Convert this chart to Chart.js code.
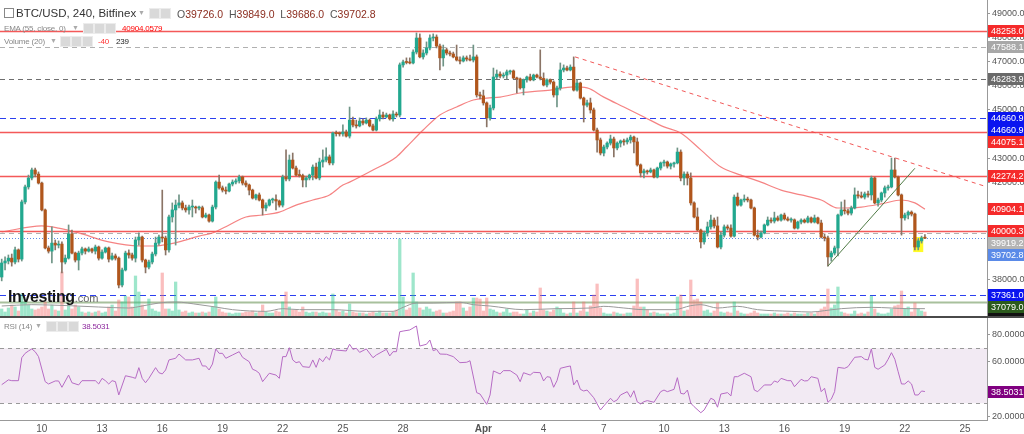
<!DOCTYPE html>
<html>
<head>
<meta charset="utf-8">
<title>BTC/USD, 240, Bitfinex</title>
<script src="https://cdn.jsdelivr.net/npm/chart.js@4.4.1/dist/chart.umd.min.js"></script>
<style>
  body { margin: 0; background: #fff; }
  #wrap { position: relative; width: 1024px; height: 434px; overflow: hidden; font-family: Arial, "Liberation Sans", sans-serif; }
  #priceChart { position: absolute; left: 0; top: 0; }
  #rsiChart { position: absolute; left: 0; top: 318px; }
  #sep { position: absolute; left: 0; top: 316px; width: 1024px; height: 2px; background: #4a4a4a; }
  .t { position: absolute; white-space: nowrap; line-height: 12px; }
  .sm { font-size: 8px; letter-spacing: -0.2px; color: #888; }
  .ico { position: absolute; width: 9px; height: 9px; background: #d9d9d9; border: 1px solid #ececec; }
  .caret { position: absolute; font-size: 7px; color: #aaa; }
  .r { color: #8b2c1e; }
</style>
</head>
<body>
<div id="wrap">
  <canvas id="priceChart" width="1024" height="316"></canvas>
  <div id="sep"></div>
  <canvas id="rsiChart" width="1024" height="116"></canvas>

  <!-- legend, main panel -->
  <span class="t" style="left:4px;top:8px;width:8px;height:8px;border:1px solid #888;"></span>
  <span class="t" style="left:16px;top:7px;font-size:11.5px;color:#333;">BTC/USD, 240, Bitfinex</span>
  <span class="caret" style="left:138px;top:9px;">&#9660;</span>
  <span class="ico" style="left:149px;top:8px;"></span><span class="ico" style="left:160px;top:8px;"></span>
  <span class="t" style="left:177px;top:8px;font-size:10.5px;color:#555;">O<span class="r">39726.0</span>&nbsp; H<span class="r">39849.0</span>&nbsp; L<span class="r">39686.0</span>&nbsp; C<span class="r">39702.8</span></span>

  <span class="t sm" style="left:4px;top:23px;">EMA (55, close, 0)</span>
  <span class="caret" style="left:72px;top:24px;">&#9660;</span>
  <span class="ico" style="left:83px;top:23px;"></span><span class="ico" style="left:94px;top:23px;"></span><span class="ico" style="left:105px;top:23px;"></span>
  <span class="t sm" style="left:122px;top:23px;color:#f00;">40904.0579</span>

  <span class="t sm" style="left:4px;top:36px;">Volume (20)</span>
  <span class="caret" style="left:50px;top:37px;">&#9660;</span>
  <span class="ico" style="left:60px;top:36px;"></span><span class="ico" style="left:71px;top:36px;"></span><span class="ico" style="left:82px;top:36px;"></span>
  <span class="t sm" style="left:98px;top:36px;color:#f33;">-40</span>
  <span class="t sm" style="left:116px;top:36px;color:#222;">239</span>

  <!-- watermark -->
  <span class="t" style="left:8px;top:289px;font-size:16px;font-weight:bold;color:#151515;letter-spacing:-0.4px;line-height:16px;">Investing<span style="font-size:11px;font-weight:normal;color:#666;letter-spacing:0;">.com</span></span>

  <!-- legend, RSI panel -->
  <span class="t sm" style="left:4px;top:321px;">RSI (14)</span>
  <span class="caret" style="left:35px;top:322px;">&#9660;</span>
  <span class="ico" style="left:46px;top:321px;"></span><span class="ico" style="left:57px;top:321px;"></span><span class="ico" style="left:68px;top:321px;"></span>
  <span class="t sm" style="left:82px;top:321px;color:#8e2a9e;">38.5031</span>
</div>

<script>
// 4h candles, 8 Mar - 23 Apr (index 0 = 8 Mar 00:00)
const opens = [
  38100,38680,38760,38880,38720,39220,38840,41200,41820,42190,
  42520,42350,41980,40870,39300,39170,39500,39420,39460,38720,
  38880,39880,39090,38800,39090,39260,39170,39260,39170,39340,
  38880,39130,39300,38840,38970,38880,37770,38390,39090,39010,
  38880,39630,39750,38800,38510,38720,39050,39500,39750,39710,
  39220,40580,40870,41070,41160,40950,40870,40990,40990,40950,
  40960,40580,40660,40410,40990,42020,41780,41690,41650,41940,
  42020,42070,42230,41980,41900,41690,41360,41490,41280,40950,
  41070,41280,41300,41240,41070,42230,42150,42930,42600,42310,
  42290,42110,42190,42310,42640,42190,42850,42930,43060,42810,
  44050,44020,44010,44090,43920,44580,44380,44340,44540,44460,
  44580,44340,44170,44630,44790,44710,44790,44630,44830,44790,
  46860,46980,46960,46940,47390,47970,47190,47350,47560,47970,
  48010,47640,47150,47480,47350,47310,47190,47060,47020,47150,
  47100,47060,47190,45620,45580,45290,44670,45080,46360,46480,
  46400,46440,46570,46610,46320,46280,45910,46240,46360,46240,
  46440,46360,46300,46030,46240,46150,45620,45910,46650,46730,
  46650,46770,45820,46110,45490,45200,45290,45000,44170,43760,
  43220,43470,43630,43800,43430,43630,43720,43680,43760,43880,
  43680,42730,42400,42480,42440,42520,42230,42600,42810,42850,
  42680,42770,42810,43260,42190,42350,42190,41160,40580,40040,
  39550,39920,40170,40450,40210,39340,39830,40170,40120,39790,
  41400,41070,41280,41320,41280,40950,39830,39750,39920,40250,
  40450,40410,40540,40450,40660,40500,40450,40460,40120,40370,
  40450,40370,40540,40370,40540,40330,39750,39710,38930,39090,
  39300,40660,40870,40830,40740,40950,41490,41450,41400,41530,
  41490,42190,41160,41280,41570,41780,41820,42520,42230,41490,
  40540,40660,40780,40700,39340,39590,39726
];
const highs = [
  38840,38930,39010,39050,39340,39260,41280,41900,42310,42600,
  42600,42440,42020,40910,39380,40170,39630,39590,39550,39010,
  40250,40040,39130,39170,39340,39300,39340,39300,39420,39380,
  39220,39340,39340,39090,39050,38930,38470,39170,39220,39090,
  39750,39920,39790,38840,38800,39130,39750,39830,41690,39790,
  40660,41160,41280,41490,41240,41070,41070,41280,41030,41030,
  41030,40740,40700,41070,42070,42310,41860,41820,41980,42110,
  42150,42310,42270,42070,41940,41730,41530,41570,41320,41160,
  41320,41360,41490,41280,42310,43350,43140,43220,42680,42520,
  42350,42270,42350,42730,42810,43010,43350,43430,43140,44090,
  44130,44090,44380,44170,45120,44710,44580,44670,44630,44670,
  44630,44420,44710,45000,44910,44870,44830,44960,44910,46940,
  47060,47150,47150,47480,48180,48140,47480,47810,48100,48140,
  48100,47720,47680,47560,47430,47390,47680,47190,47230,47230,
  47270,47680,47270,45740,45820,45330,45200,46730,46650,46570,
  46530,46650,46650,46650,46360,46320,46280,46400,46480,46480,
  46480,47480,46530,46280,46280,46200,45990,46940,46860,46810,
  46860,47190,46240,46150,45530,45410,45490,45080,44250,43840,
  43550,43680,43960,43880,43680,43760,43800,43840,43960,43920,
  43840,42770,42560,42520,42600,42560,42640,42850,42930,42890,
  42810,42850,43430,43350,42440,42440,42400,41200,40950,40080,
  40000,40370,40660,40540,40580,39960,40250,40250,40250,41490,
  41570,41320,41490,41400,41320,40990,40040,40000,40290,40580,
  40540,40780,40620,40700,40740,40580,40540,40500,40410,40500,
  40500,40620,40580,40660,40580,40450,39880,39790,39170,39380,
  40700,41200,41280,40910,41030,41780,41650,41610,41610,41650,
  42270,42230,41360,41610,41860,41900,43010,43010,42270,41530,
  40740,40830,40830,40740,39670,39790,39849
];
const lows = [
  37940,38390,38640,38550,38640,38720,38760,41120,41730,42110,
  42230,41940,40830,39260,39090,38680,39220,39300,38270,38640,
  38840,39050,38720,38390,39010,39050,39130,39090,39050,38800,
  38840,39090,38720,38800,38800,37650,37690,38350,38880,38800,
  38720,39420,38720,38270,38430,38640,38970,39420,39550,39010,
  39130,40370,39420,40950,40870,40780,40700,40580,40740,40870,
  40540,40540,40370,40370,40910,41730,41610,41530,41610,41860,
  41940,41980,41900,41820,41490,41320,41280,41240,40660,40830,
  41030,41160,40870,40990,40990,42070,42070,42560,42270,42230,
  41820,41820,42110,42110,42150,42110,42640,42850,42730,42730,
  43920,43920,43920,43880,43840,44300,44250,44300,44380,44420,
  44300,44130,44130,44540,44630,44670,44580,44540,44710,44710,
  46770,46900,46900,46900,47310,47150,47100,47270,47480,47850,
  47560,46650,46810,47270,47230,47150,47020,46900,46980,47020,
  47020,46980,45530,45450,45200,44300,44580,45000,46280,46320,
  46320,46280,46480,46280,45700,45860,45620,46150,46200,46200,
  46320,46240,45990,45950,46070,45530,45120,45820,46570,46610,
  46610,45780,45780,45450,44500,45120,44870,44130,43260,43140,
  43100,43390,43550,43060,43350,43470,43550,43590,43630,43220,
  42680,42230,42190,42350,42400,42190,42190,42520,42680,42600,
  42560,42640,42770,42070,41900,41900,41070,40540,40000,39300,
  39460,39790,40080,40120,39300,39260,39750,40040,39750,39750,
  41030,41030,41200,41200,40910,39790,39630,39710,39880,40210,
  40330,40330,40410,40410,40450,40410,40370,40080,40080,40290,
  40330,40330,40330,40330,40290,39710,39590,38550,38760,39010,
  38970,40620,40700,40660,40660,40910,41360,41360,41320,41400,
  41280,41120,41030,41200,41400,41690,41780,42190,41450,39830,
  40450,40500,40620,39220,39220,39500,39686
];
const closes = [
  38680,38760,38880,38720,39220,38840,41200,41820,42190,42520,
  42350,41980,40870,39300,39170,39500,39420,39460,38720,38880,
  39880,39090,38800,39090,39260,39170,39260,39170,39340,38880,
  39130,39300,38840,38970,38880,37770,38390,39090,39010,38880,
  39630,39750,38800,38510,38720,39050,39500,39750,39710,39220,
  40580,40870,41070,41160,40950,40870,40990,41010,40950,40960,
  40580,40660,40410,40990,42020,41780,41690,41650,41940,42020,
  42070,42230,41980,41900,41690,41360,41490,41280,40950,41070,
  41280,41300,41240,41070,42230,42150,42930,42600,42310,42290,
  42110,42190,42310,42640,42190,42850,42930,43060,42810,44050,
  44020,44010,44090,43920,44580,44380,44340,44540,44460,44580,
  44340,44170,44630,44790,44710,44790,44630,44830,44790,46860,
  46980,46960,46940,47390,47970,47190,47350,47560,47970,48010,
  47640,47150,47480,47350,47310,47190,47060,47020,47150,47100,
  47060,47190,45620,45580,45290,44670,45080,46360,46480,46400,
  46440,46570,46610,46320,46280,45910,46240,46360,46240,46440,
  46360,46300,46030,46240,46150,45620,45910,46650,46730,46650,
  46770,45820,46110,45490,45200,45290,45000,44170,43760,43220,
  43470,43630,43800,43430,43630,43720,43680,43760,43880,43680,
  42730,42400,42480,42440,42520,42230,42600,42810,42850,42680,
  42770,42810,43260,42190,42350,42190,41160,40580,40040,39550,
  39920,40170,40450,40210,39340,39830,40170,40120,39790,41400,
  41070,41280,41320,41280,40950,39830,39750,39920,40250,40450,
  40410,40540,40450,40660,40500,40450,40460,40120,40370,40450,
  40370,40540,40370,40540,40330,39750,39710,38930,39090,39300,
  40660,40870,40830,40740,40950,41490,41450,41400,41530,41490,
  42190,41160,41280,41570,41780,41820,42520,42230,41490,40540,
  40660,40780,40700,39340,39590,39710,39702.8
];
const volumes = [
  420,240,480,660,540,300,1320,840,660,420,
  360,420,540,840,420,660,360,300,2640,360,
  660,420,660,540,240,180,240,180,240,300,
  180,240,540,660,300,960,840,1200,1140,540,
  2400,1440,660,360,1020,420,300,240,2580,420,
  420,300,2040,360,240,300,180,240,180,180,
  240,180,240,540,1140,420,240,180,180,120,
  180,180,180,240,240,300,180,240,660,240,
  180,180,300,240,840,1440,540,360,360,240,
  540,240,180,240,240,180,240,180,180,1320,
  360,240,300,180,720,240,180,180,180,120,
  180,240,180,300,180,180,180,240,360,4620,
  1140,360,480,2580,840,480,360,540,420,240,
  300,360,180,180,240,300,840,840,480,300,
  540,1080,1080,1020,300,1080,420,360,240,180,
  240,420,180,240,240,120,120,360,180,300,
  240,1680,360,300,240,360,540,420,180,120,
  180,840,180,300,840,240,600,1260,1920,480,
  180,120,120,240,180,120,120,180,180,600,
  2220,540,540,360,180,240,180,120,120,180,
  120,180,1140,1260,300,360,2160,960,1020,840,
  300,360,180,300,780,240,180,240,180,840,
  300,180,120,120,180,300,180,120,120,120,
  120,180,120,120,120,180,120,180,120,120,
  120,180,180,120,240,420,540,1620,480,660,
  1740,240,180,120,120,300,120,180,120,240,
  1200,420,180,120,120,180,420,600,660,1500,
  420,540,240,780,420,300,239
];

// indicator lines: [candle index, value]
const emaPoints = [
  [0,39960],[12,40210],[17,40120],[23,39920],[32,39550],[41,39380],[46,39380],[50,39460],
  [53,39550],[59,39790],[63,39920],[68,40250],[73,40580],[78,40660],[83,40780],[88,41070],
  [93,41280],[98,41490],[102,41900],[104,42020],[111,42520],[118,43060],[121,43470],[126,44170],
  [131,44790],[136,45120],[141,45410],[145,45490],[149,45530],[155,45700],[164,45820],[171,45950],
  [175,45910],[180,45530],[186,45120],[192,44710],[198,44300],[203,44050],[209,43350],[215,42640],
  [221,42310],[227,42020],[233,41690],[239,41490],[245,41280],[250,40950],[257,40990],[263,41120],
  [269,41280],[273,41160],[276,40904.1]
];
const volMaPoints = [
  [0,600],[9,680],[20,620],[29,540],[38,480],[42,600],[47,780],[52,840],[59,680],[64,540],
  [69,380],[79,280],[84,440],[89,380],[99,380],[109,280],[117,280],[120,520],[124,780],[129,780],
  [137,820],[141,680],[146,600],[156,380],[166,440],[176,480],[180,580],[186,480],[192,380],[201,380],
  [206,620],[209,680],[214,480],[220,580],[226,380],[236,280],[242,240],[246,320],[251,440],[260,520],
  [266,480],[271,440],[276,440]
];
const rsiPoints = [
  [0,43.5],[1,45.2],[2,47],[3,46.4],[5,46.4],[6,63.1],[7,66.3],[8,68],[9,69.5],[10,67.5],[11,63.9],
  [13,45.7],[14,44],[16,46.2],[17,46.2],[18,41.6],[20,50.5],[21,44.9],[23,43.3],[24,46.4],[28,46.4],
  [29,44],[30,48.1],[31,46.4],[32,44],[33,46.4],[34,45.7],[35,36],[37,50],[39,48.9],[40,48.1],
  [41,55.9],[42,48.1],[43,44.9],[44,48.1],[46,55.9],[47,52.2],[48,51.3],[49,54.2],[50,61.5],[52,62.7],
  [53,65.8],[55,61.5],[57,61.5],[59,62.7],[60,57.1],[61,57.1],[62,54.2],[63,58.5],[64,69.5],[65,66.3],
  [66,66.3],[67,62.7],[69,65.1],[71,67.5],[72,63.4],[74,60.2],[75,54.7],[76,53.7],[77,51.8],[78,45.7],
  [80,51.8],[82,50.5],[83,48.1],[84,63.9],[85,63.9],[86,70.4],[87,61.5],[88,59.5],[89,60.2],[90,56.6],
  [92,56.1],[93,61.5],[94,56.1],[95,62.7],[96,60.2],[97,63.9],[98,61.5],[99,69.5],[100,68.7],[103,68],
  [104,72.9],[105,69.2],[106,70],[107,67],[109,69.5],[111,63.1],[112,65.1],[115,69.2],[116,64.4],[117,67.5],
  [118,67.5],[119,82],[120,82.5],[122,83.3],[124,86.2],[125,71.6],[127,72.9],[128,76],[129,68.2],[130,69.2],
  [131,65.8],[133,65.6],[135,63.9],[137,59.5],[139,59.8],[140,60.9],[142,37.7],[143,36.7],[144,33],[145,29.2],
  [146,36],[147,53.5],[149,51.3],[150,53.7],[152,53.7],[154,50.5],[155,45.7],[156,52.2],[158,50.5],[159,52.5],
  [161,52.2],[162,46.2],[163,49.3],[164,48.9],[165,41.6],[166,46.4],[167,55.4],[169,56.6],[170,57.1],[171,43.3],
  [172,46.9],[173,40.1],[174,38.9],[175,39.6],[177,34],[178,29.5],[179,25.1],[180,28],[182,33.6],[183,31.1],
  [184,32.4],[185,36],[187,38.4],[188,34.3],[189,39.1],[190,31],[191,29.5],[192,31.1],[193,31.9],[195,30.7],
  [197,38.4],[198,39.6],[199,38.4],[201,40.1],[202,48.6],[203,37.2],[204,36.7],[205,39.6],[206,30],[207,27.5],
  [209,23.1],[210,25.1],[212,33.6],[213,32.4],[214,27.1],[215,36.7],[217,37.7],[218,35.3],[219,49.3],[220,49.3],
  [222,51.8],[224,49.3],[225,39.6],[226,38.4],[228,43.3],[230,43.3],[231,46.2],[232,45.2],[233,48.1],[235,46.4],
  [236,46.4],[237,42],[239,47.4],[240,46.2],[241,46.4],[242,49.3],[244,48.1],[245,38.4],[246,40.9],[247,30.7],
  [248,32.9],[249,38.4],[250,56.1],[252,55.4],[253,56.6],[255,63.4],[257,63.9],[258,62],[259,61.5],[260,69.5],
  [261,56.1],[262,54.7],[264,57.8],[265,62],[266,66.8],[267,62],[268,52.9],[269,44],[270,44],[271,46.2],
  [272,44],[273,36],[274,36],[275,38.9],[276,38.5031]
];

// drawn trend lines: [candle index, price]
const downTrend = [[171.4,47190],[294.6,41820]];
const upTrend = [[247,38550],[273,42590]];
const highlightBox = { from: 272.5, to: 275.5, low: 39130, high: 39750 };

// horizontal levels and right-axis tags
const levelPrices = [48258.0, 47588.1, 46283.9, 44660.9, 44075.1, 42274.2, 40000.3, 39919.2, 39702.8, 37361.0, 37079.0];
const levelStyles = ['red','gray','dark','blue','red','red','red','gray','last','blue','green'];
const tagValues = [48258.0, 47588.1, 46283.9, 44660.9, 44660.9, 44075.1, 42274.2, 40904.1, 40000.3, 39919.2, 39702.8, 37361.0, 37079.0];
const tagColors = ['#f52a2a','#a8a8a8','#6a6a6a','#0a14f0','#0a14f0','#f52a2a','#f52a2a','#f52a2a','#f52a2a','#b4b4b4','#5a8ae8','#0a14f0','#2b5a1c'];

const priceTicks = [38000,39000,40000,41000,42000,43000,44000,45000,46000,47000,48000,49000];
const rsiTicks = [20,40,60,80];
const rsiBand = [30,70];
const dayTickIdx = [12,30,48,66,84,102,120,144,162,180,198,216,234,252,270,288];
const dayLabels = ['10','13','16','19','22','25','28','Apr','4','7','10','13','16','19','22','25'];

Chart.defaults.font.family = 'Arial, "Liberation Sans", sans-serif';

const isUp = closes.map((c, i) => c >= opens[i]);
const X_MIN = -0.51, X_MAX = 294.56;

const lineStyle = {
  red:   { color: 'rgba(242,60,60,0.85)', width: 1.5, dash: [] },
  gray:  { color: '#b0b0b0', width: 1, dash: [5, 4] },
  dark:  { color: '#6f6f6f', width: 1, dash: [5, 4] },
  blue:  { color: '#2b3ff0', width: 1, dash: [6, 4] },
  last:  { color: '#5a8ae8', width: 1, dash: [1, 2] },
  green: { color: 'rgba(110,150,90,0.6)', width: 2, dash: [] }
};

function drawTags(chart, items) {
  const ctx = chart.ctx, area = chart.chartArea;
  const pts = items.map(it => ({ ...it, y: chart.scales[it.axis].getPixelForValue(it.v) }))
    .sort((a, b) => a.y - b.y);
  let prev = -1e9;
  pts.forEach(p => { if (p.y < prev + 12) p.y = prev + 12; prev = p.y; });
  ctx.save();
  ctx.font = '9px Arial, "Liberation Sans", sans-serif';
  ctx.textBaseline = 'middle';
  pts.forEach(p => {
    ctx.fillStyle = p.bg;
    ctx.fillRect(area.right + 1, Math.round(p.y) - 6, 37, 12);
    ctx.fillStyle = '#fff';
    ctx.fillText(p.text, area.right + 4, Math.round(p.y) + 0.5);
  });
  ctx.restore();
}

const pricePanelPlugin = {
  id: 'pricePanel',
  beforeDatasetsDraw(chart) {
    const ctx = chart.ctx, area = chart.chartArea;
    const x = chart.scales.x, y = chart.scales.y;
    ctx.save();
    // yellow highlight
    ctx.fillStyle = 'rgba(255,250,0,0.85)';
    const hx1 = x.getPixelForValue(highlightBox.from), hx2 = x.getPixelForValue(highlightBox.to);
    const hy1 = y.getPixelForValue(highlightBox.high), hy2 = y.getPixelForValue(highlightBox.low);
    ctx.fillRect(hx1, hy1, hx2 - hx1, hy2 - hy1);
    // horizontal levels
    levelPrices.forEach((p, k) => {
      const st = lineStyle[levelStyles[k]];
      const py = Math.round(y.getPixelForValue(p)) + 0.5;
      ctx.strokeStyle = st.color;
      ctx.lineWidth = st.width;
      ctx.setLineDash(st.dash);
      ctx.beginPath();
      ctx.moveTo(area.left, py);
      ctx.lineTo(area.right, py);
      ctx.stroke();
    });
    ctx.restore();
  },
  afterDraw(chart) {
    const items = tagValues.map((v, k) => ({ v, axis: 'y', bg: tagColors[k], text: v.toFixed(1) }));
    items.push({ v: volumes[volumes.length - 1], axis: 'vol', bg: '#111', text: String(volumes[volumes.length - 1]) });
    drawTags(chart, items);
  }
};

const rsiPanelPlugin = {
  id: 'rsiPanel',
  beforeDatasetsDraw(chart) {
    const ctx = chart.ctx, area = chart.chartArea, y = chart.scales.y;
    const yTop = y.getPixelForValue(rsiBand[1]), yBot = y.getPixelForValue(rsiBand[0]);
    ctx.save();
    ctx.fillStyle = 'rgba(150,80,160,0.12)';
    ctx.fillRect(area.left, yTop, area.right - area.left, yBot - yTop);
    ctx.strokeStyle = '#999';
    ctx.lineWidth = 1;
    ctx.setLineDash([4, 4]);
    [yTop, yBot].forEach(py => {
      ctx.beginPath();
      ctx.moveTo(area.left, Math.round(py) + 0.5);
      ctx.lineTo(area.right, Math.round(py) + 0.5);
      ctx.stroke();
    });
    ctx.restore();
  },
  afterDraw(chart) {
    const last = rsiPoints[rsiPoints.length - 1][1];
    drawTags(chart, [{ v: last, axis: 'y', bg: '#800080', text: last.toFixed(4) }]);
  }
};

function fixedRightAxis(s) {
  s.width = 37;
  s.paddingTop = 0;
  s.paddingBottom = 0;
}

// main price panel
new Chart(document.getElementById('priceChart'), {
  type: 'bar',
  data: {
    datasets: [
      {
        label: 'Volume', yAxisID: 'vol', grouped: false, order: 10,
        data: volumes.map((v, i) => ({ x: i, y: v })),
        backgroundColor: isUp.map(u => u ? 'rgba(40,200,140,0.45)' : 'rgba(245,110,110,0.45)'),
        barThickness: 2.6
      },
      {
        type: 'line', label: 'Volume MA', yAxisID: 'vol', order: 9,
        data: volMaPoints.map(p => ({ x: p[0], y: p[1] })),
        borderColor: '#9a9a9a', borderWidth: 1, pointRadius: 0, cubicInterpolationMode: 'monotone'
      },
      {
        type: 'line', label: 'EMA 55', yAxisID: 'y', order: 6,
        data: emaPoints.map(p => ({ x: p[0], y: p[1] })),
        borderColor: 'rgba(242,90,90,0.75)', borderWidth: 1.2, pointRadius: 0, cubicInterpolationMode: 'monotone'
      },
      {
        label: 'Wicks', yAxisID: 'y', grouped: false, order: 4,
        data: lows.map((l, i) => ({ x: i, y: [l, highs[i]] })),
        backgroundColor: isUp.map(u => u ? '#6f9486' : '#8a7466'),
        barThickness: 1
      },
      {
        label: 'Bodies', yAxisID: 'y', grouped: false, order: 3,
        data: opens.map((o, i) => ({ x: i, y: [o, closes[i]] })),
        backgroundColor: isUp.map(u => u ? '#22a88f' : '#b0561c'),
        barThickness: 2.6, minBarLength: 1
      },
      {
        type: 'line', label: 'Down trend', yAxisID: 'y', order: 1,
        data: downTrend.map(p => ({ x: p[0], y: p[1] })),
        borderColor: 'rgba(240,70,70,0.9)', borderWidth: 1, borderDash: [4, 4], pointRadius: 0
      },
      {
        type: 'line', label: 'Up trend', yAxisID: 'y', order: 1,
        data: upTrend.map(p => ({ x: p[0], y: p[1] })),
        borderColor: '#4f7a45', borderWidth: 1, pointRadius: 0
      }
    ]
  },
  options: {
    responsive: false, animation: false, devicePixelRatio: 1,
    layout: { padding: 0 },
    plugins: { legend: { display: false }, tooltip: { enabled: false } },
    scales: {
      x: { type: 'linear', min: X_MIN, max: X_MAX, offset: false, display: false },
      y: {
        position: 'right', min: 36490, max: 49540,
        afterBuildTicks: s => { s.ticks = priceTicks.map(v => ({ value: v })); },
        afterFit: fixedRightAxis,
        ticks: { callback: v => v.toFixed(1), color: '#555', font: { size: 9 }, padding: 2 },
        grid: { drawOnChartArea: false, tickLength: 3, color: '#999' },
        border: { color: '#999' }
      },
      vol: { display: false, min: 0, max: 18960 }
    }
  },
  plugins: [pricePanelPlugin]
});

// RSI panel
new Chart(document.getElementById('rsiChart'), {
  type: 'line',
  data: {
    datasets: [{
      label: 'RSI (14)',
      data: rsiPoints.map(p => ({ x: p[0], y: p[1] })),
      borderColor: '#b66bc4', borderWidth: 1, pointRadius: 0
    }]
  },
  options: {
    responsive: false, animation: false, devicePixelRatio: 1,
    layout: { padding: 0 },
    plugins: { legend: { display: false }, tooltip: { enabled: false } },
    scales: {
      x: {
        type: 'linear', min: X_MIN, max: X_MAX,
        afterBuildTicks: s => { s.ticks = dayTickIdx.map(v => ({ value: v })); },
        afterFit: s => { s.height = 14; s.paddingLeft = 0; s.paddingRight = 0; },
        ticks: {
          autoSkip: false, maxRotation: 0, padding: 3, color: '#555',
          callback: (v, k) => dayLabels[k],
          font: c => ({ size: 10, weight: (c.tick && c.index === 7) ? 'bold' : 'normal' })
        },
        grid: { display: false, drawTicks: false },
        border: { display: true, color: '#999' }
      },
      y: {
        position: 'right', min: 17.8, max: 92,
        afterBuildTicks: s => { s.ticks = rsiTicks.map(v => ({ value: v })); },
        afterFit: fixedRightAxis,
        ticks: { callback: v => v.toFixed(4), color: '#555', font: { size: 9 }, padding: 2 },
        grid: { drawOnChartArea: false, tickLength: 3, color: '#999' },
        border: { color: '#999' }
      }
    }
  },
  plugins: [rsiPanelPlugin]
});
</script>
</body>
</html>
